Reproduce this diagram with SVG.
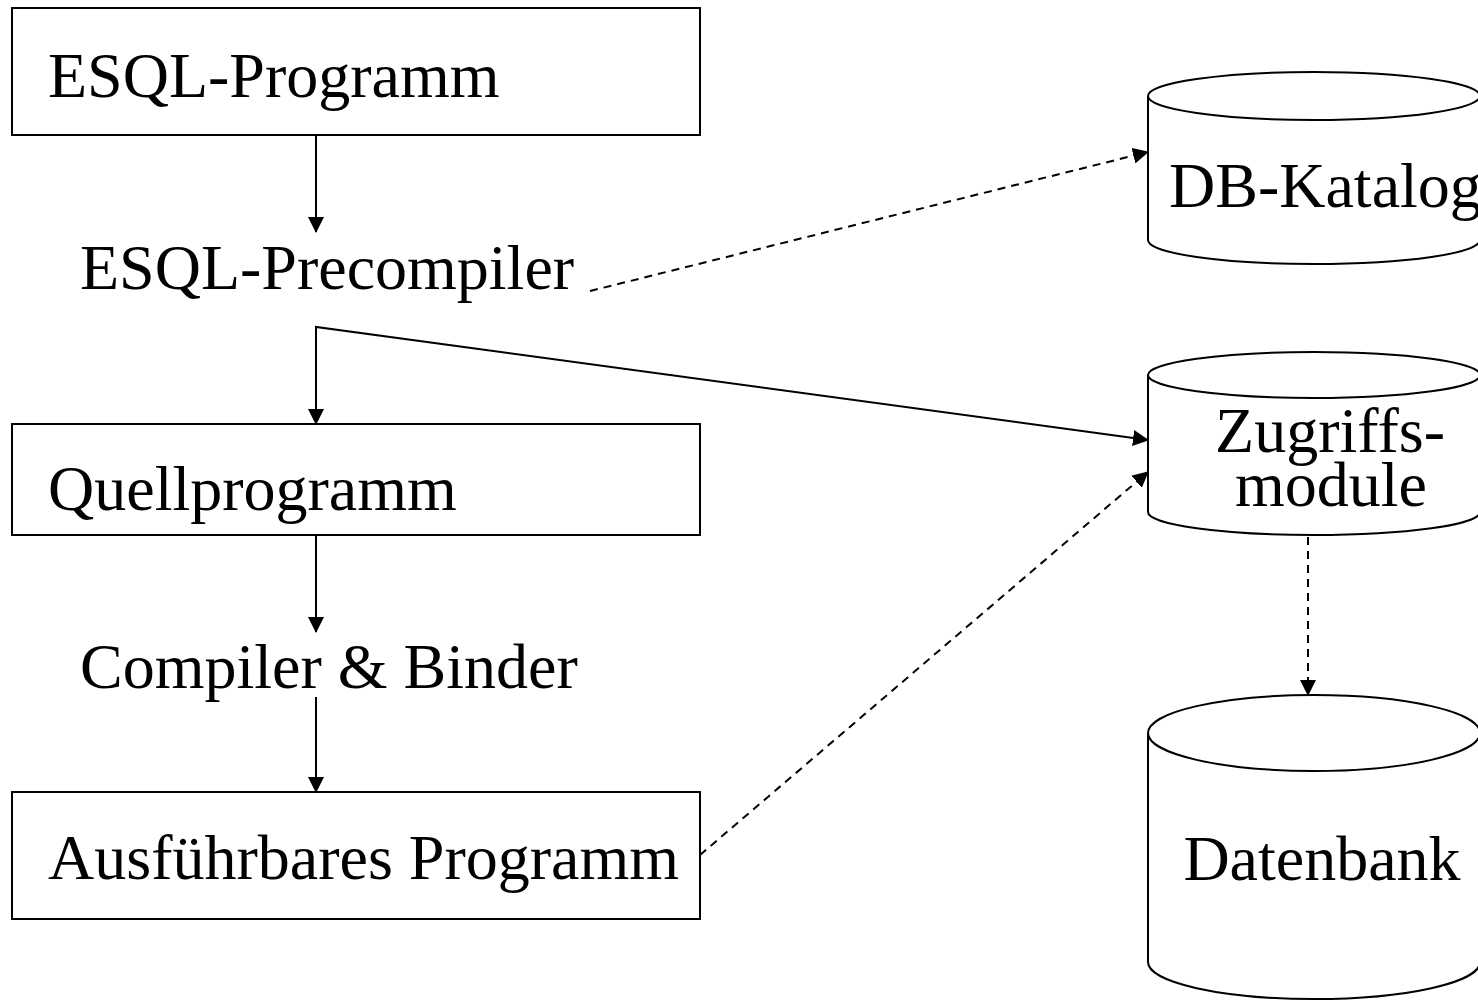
<svg xmlns="http://www.w3.org/2000/svg" width="1478" height="1000" viewBox="0 0 1478 1000">
<defs>
<style>
.box{fill:#fff;stroke:#000;stroke-width:2}
.cyl{fill:#fff;stroke:#000;stroke-width:2}
.t{font-family:"Liberation Serif","Times New Roman",serif;font-size:64px;fill:#000}
.c{stroke:#000;stroke-width:2;fill:none}
.d{stroke:#000;stroke-width:2;fill:none;stroke-dasharray:8 6}
</style>
<marker id="ah" viewBox="0 0 16 16" refX="15" refY="8" markerWidth="16" markerHeight="16" markerUnits="userSpaceOnUse" orient="auto">
<path d="M0,0 L16,8 L0,16 Z" fill="#000"/>
</marker>
</defs>
<rect width="1478" height="1000" fill="#fff"/>
<g id="connectors">
<line class="c" x1="316" y1="135" x2="316" y2="232" marker-end="url(#ah)"/>
<line class="d" x1="590" y1="291" x2="1148" y2="152" marker-end="url(#ah)"/>
<polyline class="c" points="316,424 316,327 1148,440" marker-end="url(#ah)"/>
<line class="c" x1="316" y1="327" x2="316" y2="424" marker-end="url(#ah)"/>
<line class="c" x1="316" y1="535" x2="316" y2="632" marker-end="url(#ah)"/>
<line class="c" x1="316" y1="697" x2="316" y2="792" marker-end="url(#ah)"/>
<line class="d" x1="700" y1="855" x2="1148" y2="472" marker-end="url(#ah)"/>
<line class="d" x1="1308" y1="537" x2="1308" y2="695" marker-end="url(#ah)"/>
</g>
<g id="esql-programm">
<rect class="box" x="12" y="8" width="688" height="127"/>
<text class="t" x="48" y="97">ESQL-Programm</text>
</g>
<g id="esql-precompiler">
<text class="t" x="80" y="289">ESQL-Precompiler</text>
</g>
<g id="quellprogramm">
<rect class="box" x="12" y="424" width="688" height="111"/>
<text class="t" x="48" y="510">Quellprogramm</text>
</g>
<g id="compiler-binder">
<text class="t" x="80" y="688">Compiler &amp; Binder</text>
</g>
<g id="ausfuehrbares-programm">
<rect class="box" x="12" y="792" width="688" height="127"/>
<text class="t" x="48" y="879">Ausführbares Programm</text>
</g>
<g id="db-katalog">
<path class="cyl" d="M1148,96 L1148,240 A166,24 0 0 0 1480,240 L1480,96"/>
<ellipse class="cyl" cx="1314" cy="96" rx="166" ry="24"/>
<text class="t" x="1169" y="207">DB-Katalog</text>
</g>
<g id="zugriffsmodule">
<path class="cyl" d="M1148,375 L1148,512 A166,23 0 0 0 1480,512 L1480,375"/>
<ellipse class="cyl" cx="1314" cy="375" rx="166" ry="23"/>
<text class="t" x="1330" y="452" text-anchor="middle">Zugriffs-</text>
<text class="t" x="1331" y="506" text-anchor="middle">module</text>
</g>
<g id="datenbank">
<path class="cyl" d="M1148,733 L1148,962 A166,37 0 0 0 1480,962 L1480,733"/>
<ellipse class="cyl" cx="1314" cy="733" rx="166" ry="38"/>
<text class="t" x="1322" y="880" text-anchor="middle">Datenbank</text>
</g>
</svg>
